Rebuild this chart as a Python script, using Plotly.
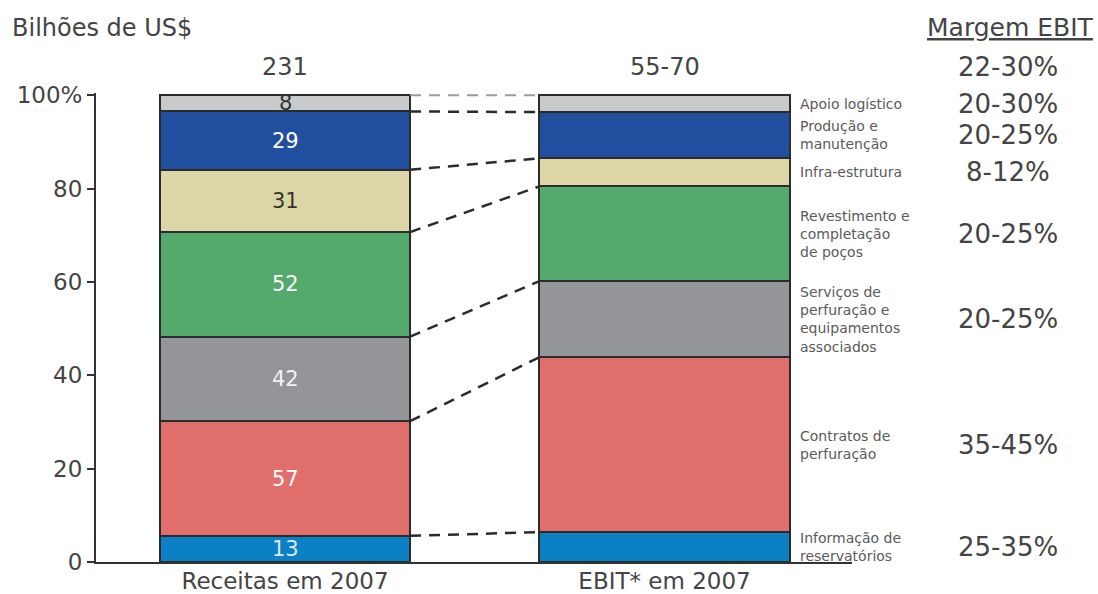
import plotly.graph_objects as go

# ---- data ----
bars = ["Receitas em 2007", "EBIT* em 2007"]
segments = ["Informação de<br>reservatórios", "Contratos de<br>perfuração",
            "Serviços de<br>perfuração e<br>equipamentos<br>associados",
            "Revestimento e<br>completação<br>de poços", "Infra-estrutura",
            "Produção e<br>manutenção", "Apoio logístico"]
revenue = [13, 57, 42, 52, 31, 29, 8]            # bilhões de US$
ebit_share = [6.4, 37.5, 16.3, 20.3, 6.0, 9.9, 3.6]  # % of EBIT
margins = ["25-35%", "35-45%", "20-25%", "20-25%", "8-12%", "20-25%", "20-30%"]
totals = ["231", "55-70"]
total_margin = "22-30%"

colors = ["#0b80c5", "#e06e6b", "#939598", "#54aa6c", "#dcd6a6", "#214fa0", "#c9cacc"]
value_colors = ["#dbe9f5", "#ffffff", "#f2f2f2", "#ffffff", "#333333", "#ffffff", "#333333"]

rev_sum = sum(revenue)
rev_pct = [v / rev_sum * 100 for v in revenue]

FONT = "DejaVu Sans"
BAR_W = 0.659

fig = go.Figure()
for i, seg in enumerate(segments):
    fig.add_trace(go.Bar(
        x=[0, 1], y=[rev_pct[i], ebit_share[i]], width=BAR_W,
        marker=dict(color=colors[i], line=dict(color="#2b2b2b", width=2)),
        showlegend=False, hoverinfo="skip"))

# cumulative boundaries
def cum(vals):
    out, s = [0], 0
    for v in vals:
        s += v
        out.append(s)
    return out

rc, ec = cum(rev_pct), cum(ebit_share)

# dashed connectors (skip the 0 baseline)
for k in range(1, len(rc)):
    top = k == len(rc) - 1
    fig.add_trace(go.Scatter(
        x=[BAR_W / 2, 1 - BAR_W / 2], y=[rc[k], ec[k]], mode="lines",
        line=dict(color="#9a9a9a" if top else "#2b2b2b", width=2 if top else 2.5,
                  dash="11px,8px"),
        showlegend=False, hoverinfo="skip"))

annotations = []
# values inside left bar
for i in range(len(segments)):
    annotations.append(dict(x=0, y=(rc[i] + rc[i + 1]) / 2, xref="x", yref="y",
                            text=str(revenue[i]), showarrow=False,
                            font=dict(family=FONT, size=21, color=value_colors[i])))
# category labels and margins
for i in range(len(segments)):
    mid = (ec[i] + ec[i + 1]) / 2
    annotations.append(dict(x=0.929, y=mid, xref="paper", yref="y", text=segments[i],
                            showarrow=False, xanchor="left", align="left",
                            font=dict(family=FONT, size=14, color="#5a5a5a")))
    annotations.append(dict(x=1.206, y=mid, xref="paper", yref="y", text=margins[i],
                            showarrow=False, xanchor="center",
                            font=dict(family=FONT, size=26, color="#444444")))
# totals row
for j, t in enumerate(totals):
    annotations.append(dict(x=j, y=1.055, xref="x", yref="paper", text=t, showarrow=False,
                            yanchor="middle",
                            font=dict(family=FONT, size=24, color="#444444")))
annotations.append(dict(x=1.206, y=1.055, xref="paper", yref="paper", text=total_margin,
                        showarrow=False, xanchor="center", yanchor="middle",
                        font=dict(family=FONT, size=26, color="#444444")))
annotations.append(dict(x=-0.114, y=1.139, xref="paper", yref="paper", text="Bilhões de US$",
                        showarrow=False, xanchor="left", yanchor="middle",
                        font=dict(family=FONT, size=24, color="#444444")))
annotations.append(dict(x=1.209, y=1.139, xref="paper", yref="paper", text="<u>Margem EBIT</u>",
                        showarrow=False, xanchor="center", yanchor="middle",
                        font=dict(family=FONT, size=25, color="#444444")))

fig.update_layout(
    width=1098, height=594, autosize=False,
    margin=dict(l=96, r=246, t=93, b=32),
    paper_bgcolor="white", plot_bgcolor="white",
    barmode="stack", bargap=0,
    font=dict(family=FONT, color="#444444"),
    annotations=annotations,
    xaxis=dict(range=[-0.498, 1.494], tickvals=[0, 1], ticktext=bars,
               showline=True, linecolor="#333333", linewidth=2, ticks="",
               showgrid=False, zeroline=False, automargin=False,
               ticklabelstandoff=-3,
               tickfont=dict(family=FONT, size=23, color="#444444")),
    yaxis=dict(range=[0, 100.5], tickvals=[0, 20, 40, 60, 80, 100],
               ticktext=["0", "20", "40", "60", "80", "100%"],
               showline=True, linecolor="#333333", linewidth=2,
               ticks="outside", ticklen=7, tickwidth=2, tickcolor="#333333",
               showgrid=False, zeroline=False, automargin=False,
               tickfont=dict(family=FONT, size=23, color="#444444")),
)

fig.write_html("out.html")
